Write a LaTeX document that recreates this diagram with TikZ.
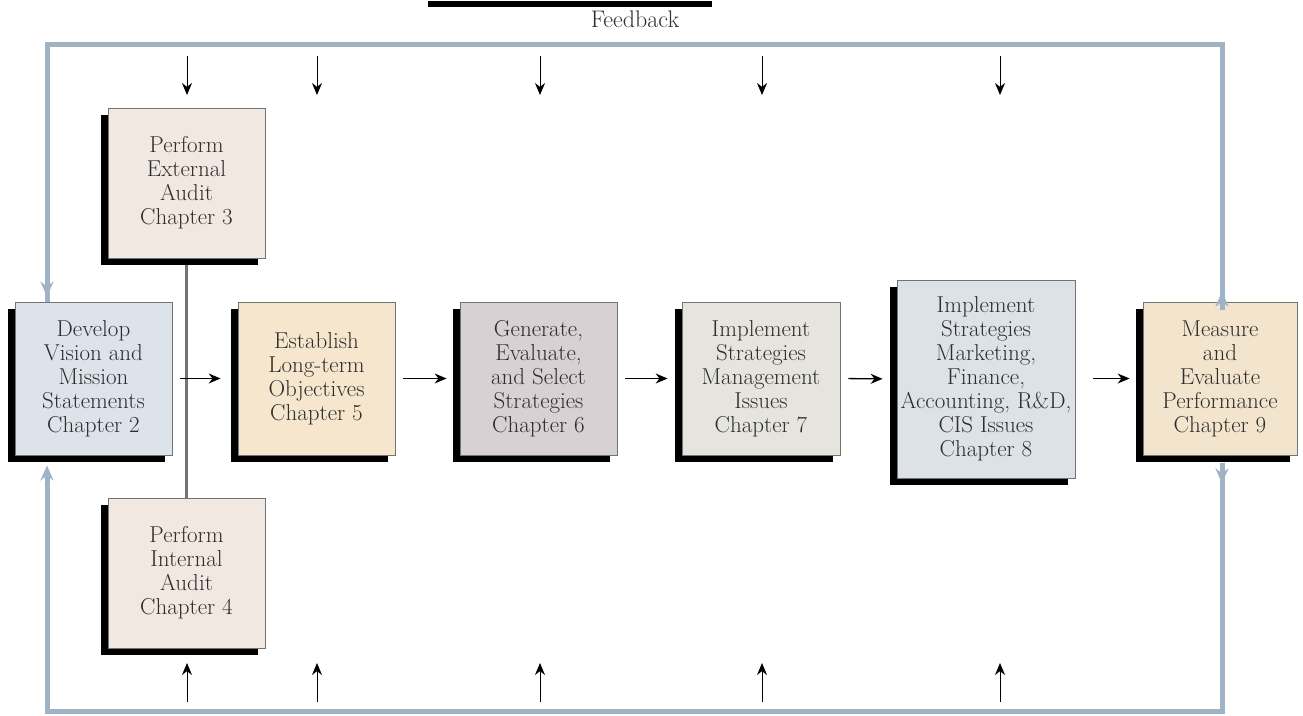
\documentclass[tikz,border=0pt]{standalone}
\usetikzlibrary{arrows.meta,shadows,positioning}
\definecolor{fbcol}{RGB}{160,179,197}
\definecolor{cdev}{RGB}{221,227,234}
\definecolor{caud}{RGB}{242,232,226}
\definecolor{cest}{RGB}{245,230,205}
\definecolor{cgen}{RGB}{216,209,211}
\definecolor{cimp}{RGB}{230,229,221}
\definecolor{cimpb}{RGB}{221,226,232}
\definecolor{cmea}{RGB}{243,229,205}
\definecolor{txt}{RGB}{45,45,45}
\tikzset{
  box/.style={draw=black!55, line width=0.8pt, align=center, inner sep=0pt,
    minimum width=157pt, minimum height=153pt, text=txt,
    font=\fontsize{23}{24}\selectfont,
    general shadow={fill=black, shadow xshift=-7pt, shadow yshift=-7pt}},
  fb/.style={draw=fbcol, line width=5pt},
  fbarrow/.style={fb, -{Stealth[length=15pt,width=13pt]}},
  sarrow/.style={draw=black, line width=1pt, -{Stealth[length=12pt,width=10pt]}},
  harrow/.style={draw=black, line width=1.3pt, -{Stealth[length=12pt,width=10pt]}},
  vline/.style={draw=black!55, line width=3pt}
}
\begin{document}
\begin{tikzpicture}[x=1pt,y=-1pt]
\useasboundingbox (0,0) rectangle (1303,715);
% top cut bar and label
\fill[black] (428,1) rectangle (712,7);
\node[font=\fontsize{24}{26}\selectfont, text=txt] (fblabel) at (635,19) {Feedback};

% boxes
\node[box, fill=cdev] (dev) at (93.5,378.5) {Develop\\Vision and\\Mission\\Statements\\Chapter 2};
\node[box, fill=caud, minimum height=150pt] (ext) at (186.5,183) {Perform\\External\\Audit\\Chapter 3};
\node[box, fill=caud, minimum height=150pt] (int) at (186.5,573) {Perform\\Internal\\Audit\\Chapter 4};
\node[box, fill=cest] (est) at (316.5,378.5) {Establish\\Long-term\\Objectives\\Chapter 5};
\node[box, fill=cgen] (gen) at (538.5,378.5) {Generate,\\Evaluate,\\and Select\\Strategies\\Chapter 6};
\node[box, fill=cimp, minimum width=158pt] (imp) at (761,378.5) {Implement\\Strategies\hspace*{1.2em}\\Management\\Issues\\Chapter 7};
\node[box, fill=cimpb, minimum width=178pt, minimum height=198pt] (impb) at (986,379) {Implement\\Strategies\hspace*{2em}\\Marketing,\\Finance,\\Accounting, R\&D,\\CIS Issues\\Chapter 8};
\node[box, fill=cmea, minimum width=154pt] (mea) at (1220,378.5) {Measure\\and\\Evaluate\\Performance\\Chapter 9};

% feedback loop
\coordinate (tr) at (1222,44);
\coordinate (tl) at (47,44);
\coordinate (br) at (1222,711);
\coordinate (bl) at (47,711);
\draw[fb] (mea.north -| tr) -- (tr) -- (tl) -- (tl |- dev.north);
\draw[fbarrow] (tl |- 0,250) -- ([yshift=5pt]tl |- dev.north);
\draw[fbarrow] ([yshift=-8pt]mea.north -| tr) -- ++(0,-18);
\draw[fb, shorten <=8pt] (mea.south -| tr) -- (br) -- (bl) -- (bl |- 0,480);
\draw[fbarrow] (bl |- 0,490) -- ([yshift=-10pt]bl |- dev.south);
\draw[fbarrow] ([yshift=-8pt]mea.south -| tr) -- ++(0,20);

% junction line
\draw[vline, shorten <=7pt] (ext.south) -- (int.north);
\coordinate (j) at (ext.south |- dev.east);

% horizontal arrows
\draw[harrow, shorten <=-7pt, shorten >=17pt] (j) -- (est.west);
\draw[harrow, shorten <=8pt, shorten >=13pt] (est.east) -- (gen.west);
\draw[harrow, shorten <=8pt, shorten >=14pt] (gen.east) -- (imp.west);
\draw[harrow, shorten <=8pt, shorten >=14pt] (imp.east) -- (impb.west);
\draw[harrow, shorten <=18pt, shorten >=13pt] (impb.east |- mea.west) -- (mea.west);

% small top/bottom arrows
\foreach \n/\xx in {a/187,b/317,c/540,d/762,e/1000}{
  \coordinate (t\n) at (\xx,56);
  \coordinate (b\n) at (\xx,702);
  \draw[sarrow] (t\n) -- ++(0,39);
  \draw[sarrow] (b\n) -- ++(0,-39);
}
\end{tikzpicture}
\end{document}
